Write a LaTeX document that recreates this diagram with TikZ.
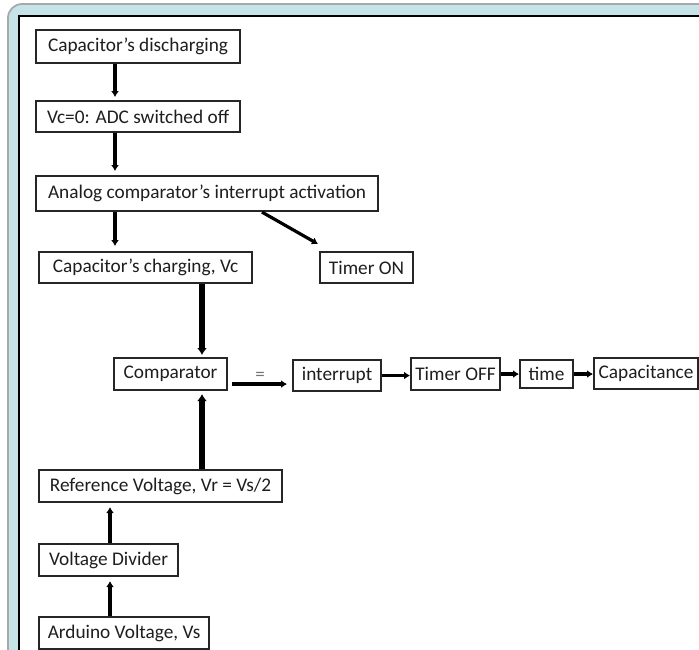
\documentclass[tikz,border=0pt]{standalone}
\usepackage{fontspec}
\setmainfont{Carlito}
\usetikzlibrary{arrows.meta}
\definecolor{frameteal}{HTML}{C6E3E7}
\definecolor{framegray}{HTML}{A9A9A9}
\definecolor{txt}{HTML}{1E1E1E}
\begin{document}
\begin{tikzpicture}[x=1pt,y=-1pt,
  box/.style={draw=black!85, line width=2.1pt, fill=white, inner xsep=0pt, inner ysep=0pt,
    text=txt, font=\fontsize{19.3}{21}\selectfont, anchor=north west},
  arr/.style={line width=3.2pt, -{Latex[length=6pt,width=8pt]}},
  thickarr/.style={line width=5.6pt, -{Latex[length=7pt,width=10pt]}}]
\useasboundingbox (0,0) rectangle (699,649);
\clip (0,0) rectangle (699,649);
% frame
\draw[fill=frameteal, draw=framegray, line width=1.8pt, rounded corners=14pt] (8,4) rectangle (740,690);
\draw[fill=white, draw=black, line width=2pt] (19,16) rectangle (740,690);
% boxes
\node[box, minimum width=204, minimum height=33] (a) at (35,29) {Capacitor’s discharging};
\node[box, minimum width=204, minimum height=31] (b) at (35,100) {Vc=0: ADC switched off};
\node[box, minimum width=342, minimum height=35] (c) at (35,175) {Analog comparator’s interrupt activation};
\node[box, minimum width=213, minimum height=31] (d) at (38,251) {Capacitor’s charging, Vc};
\node[box, minimum width=93, minimum height=31] (e) at (319,251) {Timer ON};
\node[box, minimum width=113, minimum height=32] (f) at (113,357) {Comparator};
\node[box, minimum width=88, minimum height=31] (g) at (292,359) {interrupt};
\node[box, minimum width=89, minimum height=32] (h) at (410,357) {Timer OFF};
\node[box, minimum width=53, minimum height=28] (i) at (519,359) {time};
\node[box, minimum width=104, minimum height=31] (j) at (593,357) {Capacitance};
\node[box, minimum width=243, minimum height=32] (k) at (38,469) {Reference Voltage, Vr = Vs/2};
\node[box, minimum width=139, minimum height=32] (l) at (38,543) {Voltage Divider};
\node[box, minimum width=170, minimum height=32] (m) at (38,616) {Arduino Voltage, Vs};
% column coordinates
\coordinate (c115) at (115,0);
\coordinate (c110) at (110,0);
\coordinate (c202) at (202,0);
\coordinate (dstart) at (262,0);
\coordinate (tonend) at (318,244);
% connectors
\draw[arr, shorten >=3pt] (a.south -| c115) -- (b.north -| c115);
\draw[arr, shorten >=4pt] (b.south -| c115) -- (c.north -| c115);
\draw[arr, shorten >=5pt] (c.south -| c115) -- (d.north -| c115);
\draw[arr] (c.south -| dstart) -- (tonend);
\draw[thickarr, shorten >=2pt] (d.south -| c202) -- (f.north -| c202);
\draw[thickarr, shorten >=3pt] (k.north -| c202) -- (f.south -| c202);
\draw[arr, shorten >=4pt] (l.north -| c110) -- (k.south -| c110);
\draw[arr, shorten >=4pt] (m.north -| c110) -- (l.south -| c110);
\draw[arr, shorten <=4pt, shorten >=5pt] ([yshift=-10pt]f.east) -- node[above=-1pt, font=\fontsize{19}{20}\selectfont, text=black!55] (eq) {=} ([yshift=-10pt]f.east -| g.west);
\draw[arr] (g.east) -- (g.east -| h.west);
\draw[arr] (h.east) -- (h.east -| i.west);
\draw[arr] (i.east) -- (i.east -| j.west);
\end{tikzpicture}
\end{document}
